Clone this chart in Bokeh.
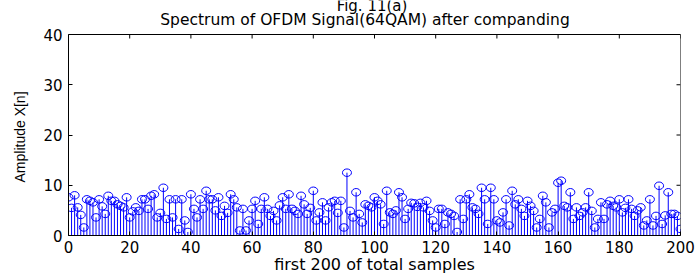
import math
from bokeh.plotting import figure
from bokeh.models import ColumnDataSource, LinearAxis, Range1d, Label, FixedTicker, Title
from bokeh.embed import file_html
from bokeh.resources import INLINE

# sample index 0..200 and amplitude |X[n]|
samples = list(range(0, 201))
amplitude = [
    7.6, 5.5, 8.0, 5.6, 4.1, 1.6, 7.2, 6.9, 6.6, 3.6,
    7.2, 5.8, 4.3, 7.9, 6.9, 6.9, 6.2, 5.9, 5.6, 7.6,
    3.6, 4.8, 5.6, 4.9, 7.2, 7.2, 5.3, 7.9, 8.2, 3.6,
    4.5, 9.5, 3.3, 7.2, 3.6, 7.2, 1.3, 7.2, 3.0, 0.7,
    8.2, 5.3, 3.6, 7.2, 5.3, 8.9, 7.2, 7.2, 5.0, 7.6,
    3.9, 5.9, 4.5, 8.2, 7.2, 5.6, 1.0, 5.3, 1.0, 3.0,
    5.3, 6.9, 2.3, 5.3, 7.6, 5.3, 3.9, 4.9, 3.0, 6.0,
    7.6, 5.3, 8.2, 5.3, 4.9, 4.3, 7.9, 6.2, 4.3, 5.5,
    8.9, 3.0, 4.6, 6.6, 3.0, 5.6, 6.6, 6.9, 4.5, 6.9,
    1.6, 12.5, 4.9, 3.6, 8.6, 4.3, 2.6, 6.2, 5.9, 5.6,
    7.6, 6.9, 6.2, 2.3, 8.9, 4.6, 4.3, 5.0, 8.6, 7.6,
    3.3, 5.3, 6.5, 6.4, 5.7, 6.5, 5.6, 6.9, 4.9, 3.0,
    1.6, 5.3, 5.3, 2.3, 4.6, 4.3, 3.9, 0.7, 7.2, 3.3,
    7.2, 8.2, 5.6, 5.3, 4.3, 9.5, 7.2, 2.3, 9.5, 7.2,
    3.0, 2.6, 4.6, 7.2, 2.0, 8.9, 6.2, 7.2, 5.3, 3.9,
    6.9, 5.9, 4.9, 1.6, 3.3, 7.9, 6.6, 1.6, 4.6, 5.3,
    10.5, 10.9, 5.9, 5.6, 8.6, 3.3, 5.6, 3.9, 4.6, 5.6,
    8.6, 4.9, 1.6, 3.3, 6.6, 3.3, 6.2, 6.9, 5.9, 5.6,
    7.2, 4.6, 5.5, 7.2, 5.3, 3.9, 5.0, 5.6, 2.0, 3.0,
    7.2, 2.0, 3.9, 9.9, 2.3, 4.0, 8.6, 4.3, 4.3, 3.9,
    1.3,
]
zeros = [0.0] * len(samples)

x_ticks = [0, 20, 40, 60, 80, 100, 120, 140, 160, 180, 200]
y_ticks = [0, 10, 20, 30, 40]
x_min, x_max = 0, 200
y_min, y_max = 0, 40

title_top = "Fig. 11(a)"
title_main = "Spectrum of OFDM Signal(64QAM) after companding"
x_label = "first 200 of total samples"
y_label = "Amplitude X[n]"

FONT = "DejaVu Sans"
BLUE = "#0000FF"

# layout (pixels); the page itself has no margin in Bokeh's template
W, H = 697, 276
B_LEFT, B_RIGHT, B_TOP, B_BOTTOM = 67, 17, 0, 41
AXES_TOP = 34            # where y = 40 sits, measured from the canvas top
frame_h = H - B_TOP - B_BOTTOM
frame_w = W - B_LEFT - B_RIGHT
axes_h = frame_h - AXES_TOP
y_top = y_max + AXES_TOP * (y_max - y_min) / axes_h   # room for the titles

src = ColumnDataSource(dict(x=samples, y=amplitude, y0=zeros))

p = figure(width=W, height=H, output_backend="svg", toolbar_location=None, title=None,
           x_range=Range1d(x_min, x_max), y_range=Range1d(y_min, y_top),
           x_axis_location=None, y_axis_location=None,
           min_border_left=B_LEFT, min_border_right=B_RIGHT,
           min_border_top=B_TOP, min_border_bottom=B_BOTTOM)
p.xgrid.visible = False
p.ygrid.visible = False
p.outline_line_color = None
p.background_fill_color = "white"
p.border_fill_color = "white"

# stems and markers
p.segment(x0="x", y0="y0", x1="x", y1="y", source=src, line_color=BLUE, line_width=1)
p.ellipse(x="x", y="y", width=9, height=7.5, width_units="screen", height_units="screen",
          source=src, fill_color=None, line_color=BLUE, line_width=1)

# box: top and right edges plus inward ticks
p.segment(x0=[x_min, x_max], y0=[y_max, y_min], x1=[x_max, x_max], y1=[y_max, y_max],
          line_color="black", line_width=1)
p.ray(x=x_ticks, y=[y_max] * len(x_ticks), length=4, length_units="screen",
      angle=-math.pi / 2, line_color="black", line_width=1)
p.ray(x=[x_max] * len(y_ticks), y=y_ticks, length=4, length_units="screen",
      angle=math.pi, line_color="black", line_width=1)

def style(ax, ticks):
    ax.ticker = FixedTicker(ticks=ticks)
    ax.minor_tick_line_color = None
    ax.major_tick_in = 4
    ax.major_tick_out = 0
    ax.axis_line_color = "black"
    ax.axis_line_width = 1
    ax.major_tick_line_color = "black"
    ax.major_label_text_font = FONT
    ax.major_label_text_font_size = "15px"
    ax.major_label_text_color = "black"
    ax.axis_label_text_font = FONT
    ax.axis_label_text_font_size = "16px"
    ax.axis_label_text_font_style = "normal"
    ax.axis_label_text_color = "black"

xb = LinearAxis(axis_label=x_label)
style(xb, x_ticks)
xb.major_label_standoff = 5
xb.axis_label_standoff = -1
p.add_layout(xb, "below")

yl = LinearAxis(bounds=(y_min, y_max))
style(yl, y_ticks)
yl.major_label_standoff = 6
p.add_layout(yl, "left")

# y-axis label as a side title so it can be centred on the 0..40 axis
yt = Title(text=y_label, align="left", offset=53, vertical_align="top", standoff=22,
           text_font="Liberation Sans", text_font_size="14px", text_font_style="normal",
           text_color="black")
p.add_layout(yt, "left")

def lab(text, x, y, size):
    l = Label(x=x, y=y, x_units="screen", y_units="screen", text=text,
              text_font=FONT, text_font_size=size, text_color="black",
              text_align="center", text_baseline="middle")
    p.add_layout(l)

lab(title_top, frame_w / 2 - 3, frame_h - 5, "15px")
lab(title_main, frame_w / 2 - 10, frame_h - 19, "15.5px")

open("out.html", "w").write(file_html(p, INLINE))
